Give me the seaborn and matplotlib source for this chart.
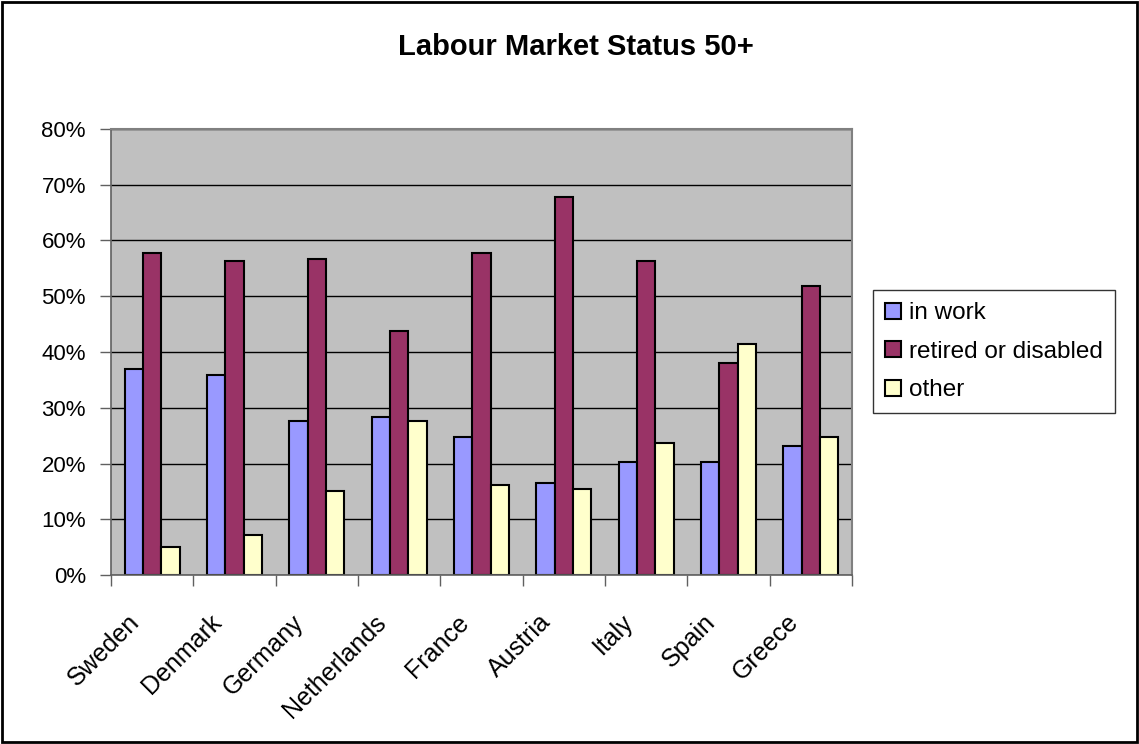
import matplotlib
matplotlib.use("Agg")
import matplotlib.pyplot as plt
from matplotlib.patches import Rectangle
from matplotlib.ticker import FixedLocator, FuncFormatter
from matplotlib.transforms import ScaledTranslation
import numpy as np
import pandas as pd
import seaborn as sns

# Share of people aged 50+ by labour market status (%)
countries = ["Sweden", "Denmark", "Germany", "Netherlands", "France",
             "Austria", "Italy", "Spain", "Greece"]
in_work = [37.0, 35.8, 27.7, 28.4, 24.7, 16.5, 20.3, 20.3, 23.2]
retired = [57.8, 56.3, 56.7, 43.7, 57.8, 67.8, 56.3, 38.0, 51.9]
other = [5.1, 7.3, 15.1, 27.7, 16.2, 15.5, 23.7, 41.5, 24.7]
statuses = ["in work", "retired or disabled", "other"]
y_ticks = [0, 10, 20, 30, 40, 50, 60, 70, 80]

df = pd.DataFrame({"country": countries,
                   statuses[0]: in_work,
                   statuses[1]: retired,
                   statuses[2]: other})
long = df.melt(id_vars="country", var_name="status", value_name="share")

sns.set_theme(style="white")
plt.rcParams["font.family"] = ["Liberation Sans", "DejaVu Sans"]
plt.rcParams["text.color"] = "black"
plt.rcParams["xtick.labelcolor"] = "black"
plt.rcParams["ytick.labelcolor"] = "black"

W, H = 1139, 744
fig = plt.figure(figsize=(W / 100, H / 100), dpi=100)
fig.patch.set_facecolor("white")

left, right, top, bottom = 111, 852, 128.7, 575.3
ax = fig.add_axes([left / W, 1 - bottom / H, (right - left) / W, (bottom - top) / H])
ax.set_facecolor("#C0C0C0")

palette = {"in work": "#9999FF", "retired or disabled": "#993366", "other": "#FFFFCC"}
sns.barplot(data=long, x="country", y="share", hue="status", hue_order=statuses,
            order=countries, palette=palette, saturation=1, width=2 / 3,
            edgecolor="black", linewidth=1.5, ax=ax)

ax.set_ylim(0, 80)
ax.set_xlim(-0.5, len(countries) - 0.5)
ax.set_yticks(y_ticks)
ax.yaxis.set_major_formatter(FuncFormatter(lambda v, p: f"{int(v)}%"))
ax.yaxis.grid(True, color="black", linewidth=1)
ax.set_axisbelow(True)
ax.set_xlabel("")
ax.set_ylabel("")

for side in ["top", "right"]:
    ax.spines[side].set_color("#808080")
    ax.spines[side].set_linewidth(1.5)
for side in ["left", "bottom"]:
    ax.spines[side].set_color("#606060")
    ax.spines[side].set_linewidth(1.2)

ax.tick_params(axis="y", which="major", direction="out", length=8, width=1,
               color="#606060", labelsize=16, pad=10, left=True,
               labelcolor="black")
ax.set_xticks(range(len(countries)))
ax.set_xticklabels(countries, rotation=45, ha="right", rotation_mode="anchor",
                   fontsize=18, color="black")
ax.tick_params(axis="x", which="major", length=0, pad=25)
shift = ScaledTranslation(-18 / 72, 0, fig.dpi_scale_trans)
for lbl in ax.get_xticklabels():
    lbl.set_transform(lbl.get_transform() + shift)
ax.xaxis.set_minor_locator(FixedLocator(np.arange(-0.5, len(countries), 1)))
ax.tick_params(axis="x", which="minor", direction="out", length=8, width=1,
               color="#606060", bottom=True)

# Legend box to the right of the plot area
handles, labels = ax.get_legend_handles_labels()
ax.legend_.remove()
leg = fig.legend(handles, labels, loc="upper left",
                 bbox_to_anchor=(873 / W, 1 - 290 / H), bbox_transform=fig.transFigure,
                 frameon=True, fancybox=False, edgecolor="black", fontsize=17.5,
                 handlelength=0.65, handleheight=0.65, handletextpad=0.35,
                 labelspacing=0.68, borderpad=0.5, borderaxespad=0,
                 labelcolor="black")
leg.get_frame().set_linewidth(1)

fig.text(575.5 / W, 1 - 47 / H, "Labour Market Status 50+", ha="center", va="center",
         fontsize=21, fontweight="bold", color="black")

# Outer chart border
fig.patches.append(Rectangle((2 / W, 2 / H), 1 - 4 / W, 1 - 4 / H,
                             transform=fig.transFigure, fill=False,
                             edgecolor="black", linewidth=2))

fig.savefig("out.png", dpi=100)
